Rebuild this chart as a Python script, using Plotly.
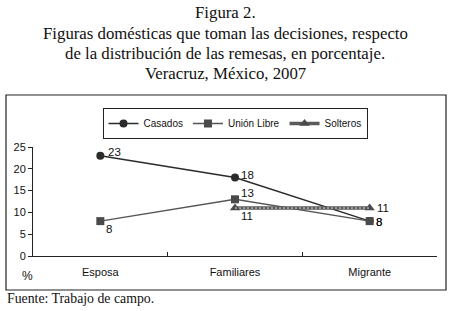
import plotly.graph_objects as go

categories = ["Esposa", "Familiares", "Migrante"]
casados = [23, 18, 8]
union_libre = [8, 13, 8]
solteros = [None, 11, 11]
y_ticks = [0, 5, 10, 15, 20, 25]

# label offsets (pixels) relative to each marker: (xshift, yshift)
casados_off = [(6, 4), (4, 3), (4, -1)]
union_off = [(4, -8), (4, 6), (4, -1)]
solteros_off = [None, (4, -8), (5, 0)]

W, H = 450, 311
L, R, T, B = 33, 13, 147, 55
pw, ph = W - L - R, H - T - B

def px(x):
    return (x - L) / pw

def py(y):
    return (H - B - y) / ph

fig = go.Figure()
fig.add_trace(go.Scatter(
    x=categories, y=casados, name="Casados", mode="lines+markers",
    line=dict(color="#2b2b2b", width=1.5), marker=dict(symbol="circle", size=8, color="#2b2b2b"),
))
fig.add_trace(go.Scatter(
    x=categories, y=union_libre, name="Unión Libre", mode="lines+markers",
    line=dict(color="#555555", width=1.5), marker=dict(symbol="square", size=8, color="#4a4a4a"),
))
fig.add_trace(go.Scatter(
    x=categories, y=solteros, name="Solteros", mode="lines+markers",
    line=dict(color="#5a5a5a", width=3.5), marker=dict(symbol="triangle-up", size=9, color="#4a4a4a"),
))
fig.add_trace(go.Scatter(
    x=categories, y=solteros, mode="lines", showlegend=False, hoverinfo="skip",
    line=dict(color="#d8d8d8", width=1, dash="2px,2px"),
))

annotations = []
for vals, offs in [(casados, casados_off), (union_libre, union_off), (solteros, solteros_off)]:
    for c, v, o in zip(categories, vals, offs):
        if v is None:
            continue
        annotations.append(dict(text=str(v), x=c, y=v, xref="x", yref="y", showarrow=False,
                                xanchor="left", yanchor="middle", xshift=o[0], yshift=o[1],
                                font=dict(size=11.5, color="#111")))

shapes = [dict(type="rect", xref="paper", yref="paper", x0=px(6), x1=px(446), y0=py(290), y1=py(95),
               line=dict(color="#222", width=1.2), fillcolor="rgba(0,0,0,0)", layer="below")]

title_lines = ["Figura 2.", "Figuras domésticas que toman las decisiones, respecto",
               "de la distribución de las remesas, en porcentaje.", "Veracruz, México, 2007"]
for i, t in enumerate(title_lines):
    annotations.append(dict(text=t, x=px(225), y=py(13 + 20 * i), xref="paper", yref="paper",
                            showarrow=False, xanchor="center", yanchor="middle",
                            font=dict(family="Liberation Serif, serif", size=16.8, color="#111")))
annotations.append(dict(text="Fuente: Trabajo de campo.", x=px(5), y=py(298), xref="paper", yref="paper",
                        showarrow=False, xanchor="left", yanchor="middle",
                        font=dict(family="Liberation Serif, serif", size=13.8, color="#111")))
annotations.append(dict(text="%", x=px(27), y=py(276), xref="paper", yref="paper",
                        showarrow=False, xanchor="center", yanchor="middle",
                        font=dict(family="Liberation Sans, Arial", size=12, color="#111")))

fig.update_layout(
    width=W, height=H, margin=dict(l=L, r=R, t=T, b=B, pad=0),
    paper_bgcolor="white", plot_bgcolor="white",
    font=dict(family="Liberation Sans, Arial, sans-serif", size=11, color="#111"),
    shapes=shapes, annotations=annotations,
    legend=dict(orientation="h", x=px(235), y=py(108), xanchor="center", yanchor="top",
                bordercolor="#222", borderwidth=1, font=dict(size=10), bgcolor="white",
                itemwidth=30, tracegroupgap=0),
    xaxis=dict(type="category", showline=True, linecolor="#222", linewidth=1,
               ticks="inside", tickson="boundaries", ticklen=4, tickcolor="#222",
               showgrid=False, zeroline=False, ticklabelstandoff=6, range=[-0.5, 2.5],
               tickfont=dict(size=11)),
    yaxis=dict(range=[0, 25], tickvals=y_ticks, showline=True, linecolor="#222", linewidth=1,
               ticks="outside", ticklen=4, tickcolor="#222", showgrid=False, zeroline=False,
               tickfont=dict(size=11)),
)

fig.write_html("out.html", config={"displayModeBar": False},
               post_script="document.body.style.margin='0';")
